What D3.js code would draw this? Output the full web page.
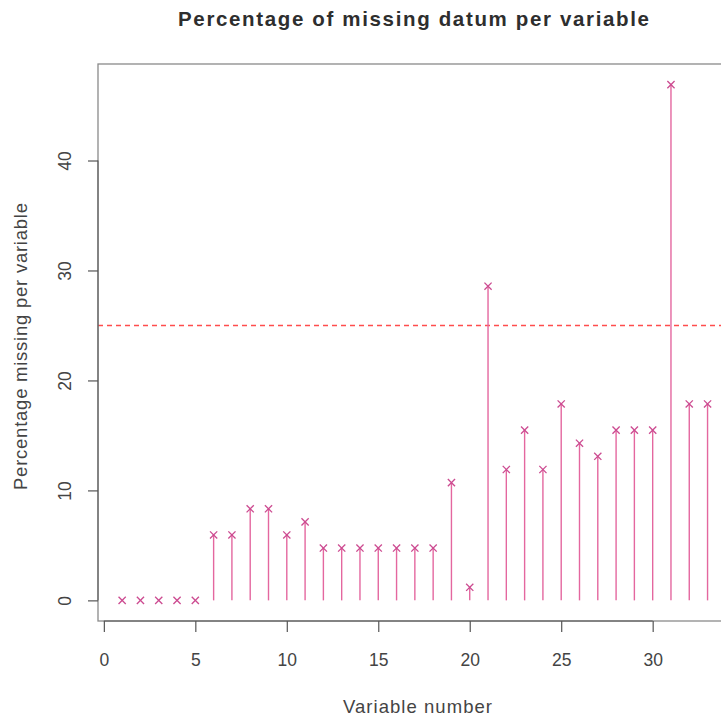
<!DOCTYPE html>
<html>
<head>
<meta charset="utf-8">
<script src="https://cdn.jsdelivr.net/npm/d3@7"></script>
<style>
  html, body { margin: 0; padding: 0; background: #fff; }
  svg { display: block; }
  text { font-family: "Liberation Sans", Arial, Helvetica, sans-serif; }
</style>
</head>
<body>
<script>
// Percentage of missing values for each variable (variable index 1..33)
const variables = d3.range(1, 34);
const missingPct = [
  0, 0, 0, 0, 0, 5.95, 5.95, 8.33, 8.33, 5.95,
  7.14, 4.76, 4.76, 4.76, 4.76, 4.76, 4.76, 4.76, 10.71, 1.19,
  28.57, 11.9, 15.48, 11.9, 17.86, 14.29, 13.1, 15.48, 15.48, 15.48,
  46.9, 17.86, 17.86
];
const xTicks = [0, 5, 10, 15, 20, 25, 30];
const yTicks = [0, 10, 20, 30, 40];
const threshold = 25;

const W = 721, H = 719;
const box = { left: 98, right: 750, top: 64, bottom: 621 };

// x axis spans variables 1..34 with the usual 4% padding on each side
const xSpan = [1, 34];
const xPad = 0.04 * (xSpan[1] - xSpan[0]);
const yMax = d3.max(missingPct);
const yPad = 0.04 * yMax;

const x = d3.scaleLinear().domain([xSpan[0] - xPad, xSpan[1] + xPad]).range([box.left, box.right]);
const y = d3.scaleLinear().domain([0 - yPad, yMax + yPad]).range([box.bottom, box.top]);

const svg = d3.select("body").append("svg").attr("width", W).attr("height", H);

const data = variables.map((v, i) => ({ v, p: missingPct[i] }));

// threshold line
svg.append("line")
  .attr("x1", box.left).attr("x2", box.right)
  .attr("y1", y(threshold)).attr("y2", y(threshold))
  .attr("stroke", "#ff4d4d").attr("stroke-width", 1.4)
  .attr("stroke-dasharray", "5,4");

// vertical stems from zero
svg.append("g").selectAll("line").data(data).join("line")
  .attr("x1", d => x(d.v)).attr("x2", d => x(d.v))
  .attr("y1", y(0)).attr("y2", d => y(d.p))
  .attr("stroke", "#e4679f").attr("stroke-width", 1.4);

// cross markers
const s = 3.6;
const marks = svg.append("g").selectAll("g").data(data).join("g")
  .attr("transform", d => `translate(${x(d.v)},${y(d.p)})`)
  .attr("stroke", "#cc4a90").attr("stroke-width", 1.3);
marks.append("line").attr("x1", -s).attr("y1", -s).attr("x2", s).attr("y2", s);
marks.append("line").attr("x1", -s).attr("y1", s).attr("x2", s).attr("y2", -s);

// plot frame
svg.append("rect")
  .attr("x", box.left).attr("y", box.top)
  .attr("width", box.right - box.left).attr("height", box.bottom - box.top)
  .attr("fill", "none").attr("stroke", "#8a8a8a").attr("stroke-width", 1.3);

const tickFont = "Liberation Sans, Arial, sans-serif";

// x axis
const xAxis = svg.append("g")
  .attr("transform", `translate(0,${box.bottom})`)
  .call(d3.axisBottom(x).tickValues(xTicks).tickSize(11).tickPadding(22).tickFormat(d3.format("d")));
xAxis.select(".domain").attr("stroke", "#555").attr("d", `M${x(0)},0H${x(30)}`);
xAxis.selectAll(".tick line").attr("stroke", "#555").attr("stroke-width", 1.2);
xAxis.selectAll(".tick text").attr("fill", "#444").attr("font-size", 17.5).attr("font-family", tickFont);

// y axis
const yAxis = svg.append("g")
  .attr("transform", `translate(${box.left},0)`)
  .call(d3.axisLeft(y).tickValues(yTicks).tickSize(10).tickFormat(d3.format("d")));
yAxis.select(".domain").attr("stroke", "#555").attr("d", `M0,${y(0)}V${y(40)}`);
yAxis.selectAll(".tick line").attr("stroke", "#555").attr("stroke-width", 1.2);
yAxis.selectAll(".tick text")
  .attr("fill", "#444").attr("font-size", 17.5).attr("font-family", tickFont)
  .attr("text-anchor", "middle").attr("x", null)
  .attr("transform", "translate(-33,0) rotate(-90)")
  .attr("dy", "0.35em");

// title and axis labels
svg.append("text")
  .attr("x", 413.5).attr("y", 26)
  .attr("text-anchor", "middle")
  .attr("font-size", 20.5).attr("font-weight", "bold").attr("fill", "#2e2e2e")
  .attr("textLength", 471).attr("lengthAdjust", "spacing")
  .text("Percentage of missing datum per variable");

svg.append("text")
  .attr("x", 417.5).attr("y", 713)
  .attr("text-anchor", "middle")
  .attr("font-size", 18.5).attr("fill", "#444")
  .attr("textLength", 149).attr("lengthAdjust", "spacing")
  .text("Variable number");

svg.append("text")
  .attr("transform", `translate(27,346.5) rotate(-90)`)
  .attr("text-anchor", "middle")
  .attr("font-size", 18.5).attr("fill", "#444")
  .attr("textLength", 287).attr("lengthAdjust", "spacing")
  .text("Percentage missing per variable");
</script>
</body>
</html>
